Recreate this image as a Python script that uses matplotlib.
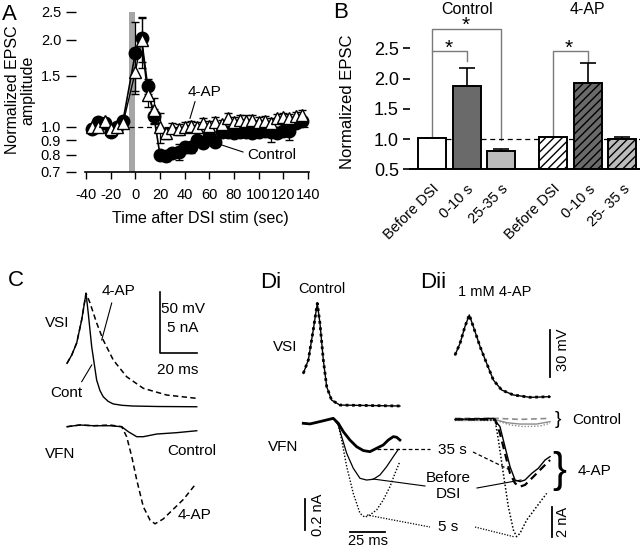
import numpy as np
import matplotlib
matplotlib.use('Agg')
import matplotlib.pyplot as plt

plt.rcParams['font.family'] = ['Liberation Sans', 'DejaVu Sans']
plt.rcParams['hatch.linewidth'] = 1.0
plt.rcParams['axes.unicode_minus'] = False

# ---------------- Panel A data ----------------
time_a = [-35, -30, -25, -20, -15, -10, 0, 5, 10, 15, 20, 25, 30, 35, 40, 45, 50, 55, 60, 65,
          70, 75, 80, 85, 90, 95, 100, 105, 110, 115, 120, 125, 130, 135]
ctrl_a = [0.98, 1.04, 1.03, 0.96, 1.00, 1.05, 1.80, 2.02, 1.38, 1.09, 0.80, 0.79, 0.81, 0.82, 0.85, 0.85,
          0.90, 0.88, 0.93, 0.89, 0.96, 0.96, 0.95, 0.96, 0.96, 0.95, 0.96, 0.97, 0.96, 0.95, 0.97, 0.97,
          1.03, 1.05]
ctrl_err = [0.02, 0.02, 0.02, 0.02, 0.02, 0.02, 0.50, 0.35, 0.08, 0.06, 0.02, 0.03, 0.03, 0.05, 0.04, 0.04,
            0.03, 0.03, 0.03, 0.03, 0.03, 0.03, 0.03, 0.03, 0.03, 0.03, 0.03, 0.03, 0.07, 0.03, 0.03, 0.07,
            0.03, 0.03]
ap_a = [1.00, 1.00, 1.05, 0.98, 1.00, 1.03, 1.55, 2.00, 1.29, 1.14, 1.00, 0.95, 0.99, 0.98, 1.00, 1.01,
        1.00, 1.03, 1.01, 1.04, 1.02, 1.07, 1.04, 1.06, 1.05, 1.06, 1.04, 1.05, 1.03, 1.07, 1.08, 1.07,
        1.09, 1.10]
ap_err = [0.02, 0.02, 0.02, 0.02, 0.02, 0.02, 0.22, 0.40, 0.12, 0.12, 0.12, 0.04, 0.04, 0.04, 0.04, 0.04,
          0.04, 0.04, 0.04, 0.04, 0.04, 0.05, 0.04, 0.04, 0.05, 0.04, 0.04, 0.04, 0.04, 0.04, 0.04, 0.04,
          0.04, 0.04]
a_yticks = [0.7, 0.8, 0.9, 1.0, 1.5, 2.0, 2.5]
a_xticks = [-40, -20, 0, 20, 40, 60, 80, 100, 120, 140]

# ---------------- Panel B data ----------------
b_labels = ['Before DSI', '0-10 s', '25-35 s', 'Before DSI', '0-10 s', '25- 35 s']
b_pos = [0, 1, 2, 3.52, 4.52, 5.52]
b_vals = [1.01, 1.87, 0.80, 1.03, 1.92, 1.00]
b_err = [0.01, 0.31, 0.04, 0.01, 0.33, 0.04]
b_colors = ['white', '#6a6a6a', '#bcbcbc', 'white', '#6a6a6a', '#bcbcbc']
b_hatch = [None, None, None, '////', '////', '////']
b_yticks = [0.5, 1.0, 1.5, 2.0, 2.5]

# ---------------- Panel C traces (ms, mV / nA) ----------------
c_vsi_ctrl_t = [0, 2.6, 5.3, 8.0, 10.4, 11.6, 13.5, 16.2, 18.0, 19.8, 22.5, 25.3, 30, 36, 50, 70.9]
c_vsi_ctrl_v = [35.8, 42.6, 52.5, 71.3, 93.2, 77, 49.4, 22.1, 13.5, 8.4, 4.6, 2.5, 1.4, 0.8, 0.4, 0.2]
c_vsi_ap_t = [0, 2.6, 5.3, 8.0, 10.4, 12.6, 16.2, 19.8, 25.3, 32.6, 41.7, 54.5, 70.9]
c_vsi_ap_v = [35.8, 42.6, 52.5, 71.3, 93.2, 85.2, 68.9, 54.9, 38.5, 24.8, 15.3, 9.8, 7.1]
c_vfn_ctrl_t = [0, 7.1, 14.4, 23.5, 29.9, 33.5, 38.1, 41.7, 49, 59.9, 70.9]
c_vfn_ctrl_i = [-0.14, 0, -0.06, -0.06, -0.14, -0.55, -0.96, -0.96, -0.74, -0.63, -0.47]
c_vfn_ap_t = [0, 7.1, 14.4, 23.5, 29.9, 32.6, 35.4, 38.1, 41.7, 45.4, 48.1, 52.6, 58.1, 63.6, 70]
c_vfn_ap_i = [-0.14, 0, -0.06, 0.0, -0.14, -0.96, -2.6, -4.5, -6.7, -7.8, -8.1, -7.7, -6.9, -6.1, -4.9]

# ---------------- Panel Di traces ----------------
di_vsi_t = [0, 3.6, 7.1, 10, 11.9, 14.3, 16.7, 20.2, 26.2, 69]
di_vsi_v = [20.9, 29.5, 48.7, 65.8, 53, 29.5, 12.4, 3.8, 0.6, 0]
di_35_t = [0, 4.8, 11.9, 21.4, 25, 28.6, 33.3, 38.1, 42.9, 47.6, 52.4, 57.1, 60.7, 64.3, 66.7, 69]
di_35_i = [0, -0.004, 0.011, 0.032, 0, -0.054, -0.108, -0.151, -0.176, -0.183, -0.161, -0.14, -0.108,
           -0.086, -0.09, -0.108]
di_bef_t = [0, 4.8, 11.9, 21.4, 25, 27.4, 31, 35.7, 40.5, 45.2, 50, 54.8, 59.5, 64.3, 67.9]
di_bef_i = [0, -0.004, 0.011, 0.032, -0.011, -0.086, -0.194, -0.29, -0.355, -0.366, -0.361, -0.333,
            -0.28, -0.215, -0.168]
di_5_t = [0, 4.8, 11.9, 21.4, 25, 27.4, 31, 35.7, 40.5, 44, 47.6, 52.4, 57.1, 61.9, 65.5, 69]
di_5_i = [0, -0.004, 0.011, 0.032, -0.011, -0.108, -0.28, -0.452, -0.581, -0.606, -0.591, -0.559,
          -0.495, -0.409, -0.323, -0.247]

# ---------------- Panel Dii traces ----------------
dii_vsi_t = [0, 3.6, 7.1, 10.2, 13.1, 17.9, 22.6, 27.4, 33.3, 41.7, 53.6, 67.9]
dii_vsi_v = [26.9, 34.4, 45.1, 52.6, 45.1, 32.3, 21.6, 10.9, 4.5, 1.3, -0.2, 0.2]
dii_bef_t = [0, 27.4, 32.1, 35.7, 39.3, 42.9, 46.4, 50, 54.8, 59.5, 64.3, 67.9]
dii_bef_i = [0.04, 0.11, -0.44, -1.78, -3.11, -4.0, -4.11, -4.0, -3.56, -3.22, -2.67, -2.44]
dii_35_t = [0, 28.6, 32.1, 35.7, 39.3, 42.9, 46.4, 50, 56, 61.9, 67.9]
dii_35_i = [0.04, 0.04, -0.89, -2.22, -3.56, -4.22, -4.44, -4.33, -3.78, -3.22, -2.67]
dii_5_t = [0, 28.6, 31, 34.5, 38.1, 41.7, 44, 46.4, 51.2, 58.3, 65.5]
dii_5_i = [0.04, 0, -1.33, -3.56, -5.78, -7.33, -7.78, -7.56, -6.67, -5.78, -4.89]
dii_c1_t = [0, 29.8, 36.9, 46.4, 58.3, 67.9]
dii_c1_i = [0, 0, -0.18, -0.27, -0.27, -0.11]
dii_c2_t = [0, 29.8, 46.4, 67.9]
dii_c2_i = [0.11, 0.11, 0.04, 0.11]
dii_c3_t = [0, 29.8, 39.3, 48.8, 60.7, 67.9]
dii_c3_i = [-0.04, -0.04, -0.33, -0.44, -0.4, -0.22]

W, H = 640, 549
fig = plt.figure(figsize=(W / 100, H / 100), dpi=100)


def px_axes(left, top, right, bottom):
    return fig.add_axes([left / W, 1 - bottom / H, (right - left) / W, (bottom - top) / H])


# overlay for text/leaders (pixel coordinates)
ov = fig.add_axes([0, 0, 1, 1])
ov.set_xlim(0, W)
ov.set_ylim(H, 0)
ov.axis('off')
ov.patch.set_alpha(0)

# ---------------- Panel A ----------------
axA = px_axes(84.8, 11.7, 309.2, 171.7)
axA.set_yscale('log')
axA.set_ylim(0.7, 2.5)
axA.set_xlim(-41, 141)
axA.axvspan(-5.5, -0.5, color='#a6a6a6', lw=0, zorder=0)
axA.plot([-5, 140], [1, 1], ls=(0, (4, 3)), color='black', lw=0.9, zorder=1)
axA.errorbar(time_a, ctrl_a, yerr=ctrl_err, fmt='none', ecolor='black', elinewidth=0.9, capsize=3,
             zorder=2)
axA.errorbar(time_a, ap_a, yerr=ap_err, fmt='none', ecolor='black', elinewidth=0.9, capsize=3, zorder=2)
axA.plot(time_a, ctrl_a, '-o', color='black', mfc='black', mec='black', ms=9, lw=1.2, zorder=3)
axA.plot(time_a, ap_a, '-^', color='black', mfc='white', mec='black', ms=8.5, mew=1.0, lw=1.0, zorder=4)
for s in ['top', 'right']:
    axA.spines[s].set_visible(False)
axA.spines['left'].set_position(('outward', 6))
axA.spines['left'].set_visible(False)
axA.spines['bottom'].set_linewidth(1.2)
axA.set_yticks(a_yticks)
axA.set_yticklabels(['%.1f' % v for v in a_yticks])
axA.yaxis.set_minor_locator(matplotlib.ticker.NullLocator())
axA.set_xticks(a_xticks)
axA.set_xticklabels([str(v) for v in a_xticks])
axA.tick_params(axis='y', length=7, width=1.0, labelsize=10.5, pad=4)
axA.tick_params(axis='x', length=5, width=1.0, labelsize=10.5, pad=7)
axA.patch.set_alpha(0)
ov.text(20, 90, 'Normalized EPSC\namplitude', rotation=90, ha='center', va='center', fontsize=11.5,
        linespacing=1.0)
ov.text(200, 218, 'Time after DSI stim (sec)', ha='center', va='center', fontsize=11.5)
ov.text(2, 14, 'A', ha='left', va='center', fontsize=16)
ov.text(204, 92, '4-AP', ha='center', va='center', fontsize=11)
ov.plot([195, 190], [101.7, 118.3], color='black', lw=0.8)
ov.text(272, 155, 'Control', ha='center', va='center', fontsize=11)
ov.plot([221.7, 243], [145, 152], color='black', lw=0.8)

# ---------------- Panel B ----------------
axB = px_axes(410, 48.3, 640, 169.3)
axB.set_ylim(0.5, 2.5)
axB.set_xlim(-0.64, 6.03)
axB.plot([0.41, 6.03], [1, 1], ls=(0, (4, 3)), color='black', lw=0.9, zorder=0)
for x, v, e, c, h in zip(b_pos, b_vals, b_err, b_colors, b_hatch):
    axB.bar(x, v - 0.5, bottom=0.5, width=0.81, color=c, edgecolor='black', lw=1.4, hatch=h, zorder=2)
    axB.errorbar(x, v, yerr=[[0], [e]], fmt='none', ecolor='black', elinewidth=1.2, capsize=6,
                 capthick=1.2, zorder=3)
for s in ['top', 'right', 'left']:
    axB.spines[s].set_visible(False)
axB.spines['bottom'].set_linewidth(1.4)
axB.set_yticks(b_yticks)
axB.set_yticklabels(['%.1f' % v for v in b_yticks])
axB.tick_params(axis='y', length=5, width=1.2, labelsize=13, pad=3)
axB.set_xticks(b_pos)
axB.set_xticklabels(b_labels, rotation=45, ha='right', rotation_mode='anchor', fontsize=10.5)
axB.tick_params(axis='x', length=0, pad=9)
axB.patch.set_alpha(0)
bc = '#7a7a7a'
ov.plot([432, 432, 467, 467], [138, 51, 51, 61], color=bc, lw=1.0)
ov.plot([432, 432, 501, 501], [51, 29, 29, 140], color=bc, lw=1.0)
ov.plot([553, 553, 588, 588], [138, 51, 51, 61], color=bc, lw=1.0)
ov.text(449, 48, '*', ha='center', va='center', fontsize=15)
ov.text(466, 25, '*', ha='center', va='center', fontsize=15)
ov.text(569, 48, '*', ha='center', va='center', fontsize=15)
ov.text(467, 9, 'Control', ha='center', va='center', fontsize=11.5)
ov.text(587, 9, '4-AP', ha='center', va='center', fontsize=11.5)
ov.text(333, 13, 'B', ha='left', va='center', fontsize=16)
ov.text(347, 102, 'Normalized EPSC', rotation=90, ha='center', va='center', fontsize=12)


# ---------------- trace axes helper ----------------
def trace_axes(box, origin, scale):
    left, top, right, bottom = box
    x0, y0 = origin
    sx, sy = scale
    ax = px_axes(left, top, right, bottom)
    ax.set_xlim((left - x0) / sx, (right - x0) / sx)
    ax.set_ylim((y0 - bottom) / sy, (y0 - top) / sy)
    ax.axis('off')
    ax.patch.set_alpha(0)
    return ax


dash = (0, (3.5, 2.2))
dot = (0, (1, 1.3))

# ---------------- Panel C ----------------
cv = trace_axes((0, 270, 220, 549), (67, 407), (1.83, 1.22))
ci = trace_axes((0, 270, 220, 549), (67, 425), (1.83, 12.2))
cv.plot(c_vsi_ctrl_t, c_vsi_ctrl_v, color='black', lw=1.0)
cv.plot(c_vsi_ap_t, c_vsi_ap_v, color='black', lw=1.1, ls=dash)
ci.plot(c_vfn_ctrl_t, c_vfn_ctrl_i, color='black', lw=1.0)
ci.plot(c_vfn_ap_t, c_vfn_ap_i, color='black', lw=1.1, ls=dash)
cv.plot([50.8, 50.8, 70.8], [94.5, 44.5, 44.5], color='black', lw=1.2)
ov.text(8, 281, 'C', ha='left', va='center', fontsize=16)
ov.text(118, 291, '4-AP', ha='center', va='center', fontsize=11)
ov.plot([111.7, 101.7], [303, 340], color='black', lw=0.8)
ov.text(57, 323, 'VSI', ha='center', va='center', fontsize=11)
ov.text(66, 393, 'Cont', ha='center', va='center', fontsize=11)
ov.plot([81.7, 91.7], [381.7, 365], color='black', lw=0.8)
ov.text(183, 309, '50 mV', ha='center', va='center', fontsize=11)
ov.text(183, 328, '5 nA', ha='center', va='center', fontsize=11)
ov.text(178, 370, '20 ms', ha='center', va='center', fontsize=11)
ov.text(60, 454, 'VFN', ha='center', va='center', fontsize=11)
ov.text(192, 451, 'Control', ha='center', va='center', fontsize=11)
ov.text(195, 515, '4-AP', ha='center', va='center', fontsize=11)

# ---------------- Panel Di ----------------
dv = trace_axes((220, 270, 420, 549), (303.3, 406), (1.4, 1.56))
di = trace_axes((220, 270, 420, 549), (303.3, 423.3), (1.4, 155))
dv.plot(di_vsi_t, di_vsi_v, color='black', lw=1.0)
dv.plot(di_vsi_t, di_vsi_v, color='black', lw=2.0, ls=dot)
di.plot(di_5_t, di_5_i, color='black', lw=1.0, ls=dot)
di.plot(di_bef_t, di_bef_i, color='black', lw=0.9)
di.plot(di_35_t, di_35_i, color='black', lw=2.0)
di.plot([1.2, 1.2], [-0.488, -0.688], color='black', lw=1.3)
di.plot([33.4, 58.4], [-0.699, -0.699], color='black', lw=1.3)
ov.text(260, 282, 'Di', ha='left', va='center', fontsize=16)
ov.text(322, 289, 'Control', ha='center', va='center', fontsize=10.5)
ov.text(285, 347, 'VSI', ha='center', va='center', fontsize=11)
ov.text(283, 447, 'VFN', ha='center', va='center', fontsize=11)
ov.text(318, 515, '0.2 nA', rotation=90, ha='center', va='center', fontsize=10.5)
ov.text(368, 541, '25 ms', ha='center', va='center', fontsize=10.5)

# ---------------- Panel Dii ----------------
ev = trace_axes((420, 270, 640, 549), (455, 397), (1.4, 1.56))
ei = trace_axes((420, 270, 640, 549), (455, 420), (1.4, 15))
ev.plot(dii_vsi_t, dii_vsi_v, color='black', lw=1.0)
ev.plot(dii_vsi_t, dii_vsi_v, color='black', lw=2.0, ls=dot)
ei.plot(dii_c1_t, dii_c1_i, color='#8c8c8c', lw=1.0)
ei.plot(dii_c2_t, dii_c2_i, color='#8c8c8c', lw=1.2, ls=dash)
ei.plot(dii_c3_t, dii_c3_i, color='#8c8c8c', lw=1.0, ls=dot)
ei.plot(dii_5_t, dii_5_i, color='black', lw=1.1, ls=dot)
ei.plot(dii_bef_t, dii_bef_i, color='black', lw=1.0)
ei.plot(dii_35_t, dii_35_i, color='black', lw=1.6, ls=dash)
ev.plot([67.9, 67.9], [42.9, 12.9], color='black', lw=1.3)
ei.plot([69, 69], [-5.78, -7.78], color='black', lw=1.3)
ov.text(420, 282, 'Dii', ha='left', va='center', fontsize=16)
ov.text(495, 292, '1 mM 4-AP', ha='center', va='center', fontsize=10.5)
ov.text(563, 350, '30 mV', rotation=90, ha='center', va='center', fontsize=10.5)
ov.text(563, 522, '2 nA', rotation=90, ha='center', va='center', fontsize=10.5)
ov.text(558, 420, '}', ha='center', va='center', fontsize=14)
ov.text(597, 420, 'Control', ha='center', va='center', fontsize=11)
ov.text(559, 471, '}', ha='center', va='center', fontsize=30)
ov.text(594, 471, '4-AP', ha='center', va='center', fontsize=11)
# label leaders
ov.text(452, 450, '35 s', ha='center', va='center', fontsize=11)
ov.text(448, 478, 'Before', ha='center', va='center', fontsize=11)
ov.text(448, 494, 'DSI', ha='center', va='center', fontsize=11)
ov.text(448, 527, '5 s', ha='center', va='center', fontsize=11)
ov.plot([377, 430], [449.3, 449.3], color='black', lw=0.9, ls=(0, (3, 2)))
ov.plot([473, 510], [452, 470], color='black', lw=0.9, ls=(0, (3, 2)))
ov.plot([373, 425], [479, 486], color='black', lw=0.8)
ov.plot([477, 521], [488, 480], color='black', lw=0.8)
ov.plot([367, 430], [515, 527], color='black', lw=0.9, ls=(0, (1, 1.2)))
ov.plot([475, 515], [527, 537], color='black', lw=0.9, ls=(0, (1, 1.2)))

fig.savefig('out.png', dpi=100)
